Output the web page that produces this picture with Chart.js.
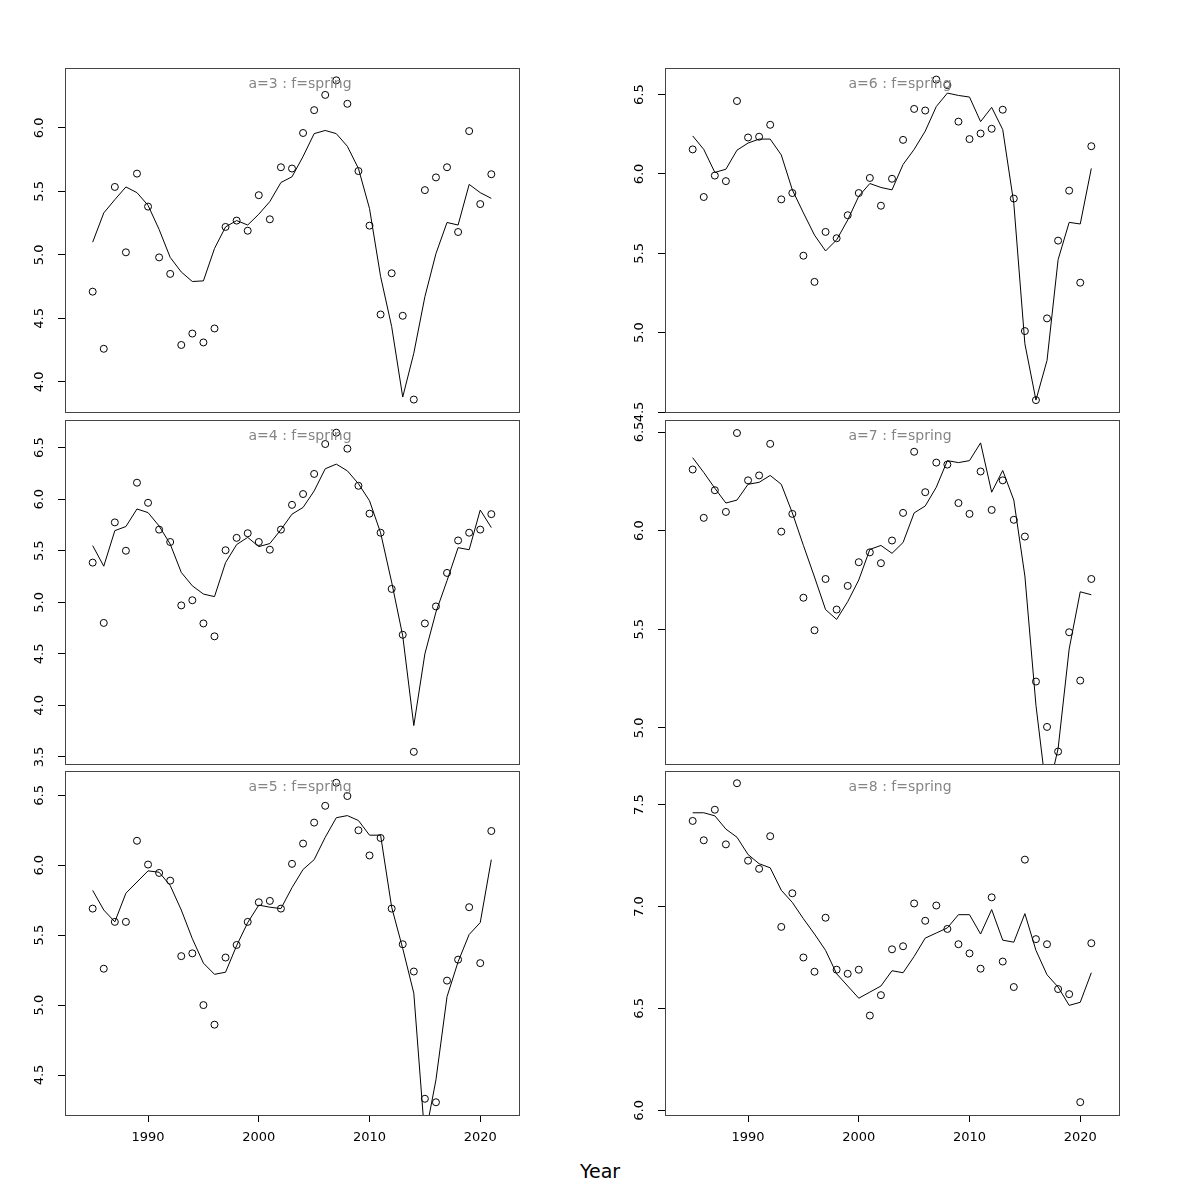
<!DOCTYPE html>
<html>
<head>
<meta charset="utf-8">
<script src="https://cdn.jsdelivr.net/npm/chart.js@4/dist/chart.umd.min.js"></script>
<style>
body { margin: 0; background: #fff; width: 1200px; height: 1200px; position: relative; overflow: hidden; font-family: "DejaVu Sans", sans-serif; }
canvas { position: absolute; }
#xlab { position: absolute; left: 0; width: 1200px; top: 1160px; text-align: center; font-size: 19px; color: #000; }
</style>
</head>
<body>
<div id="xlab">Year</div>
<script>
const years = [1985, 1986, 1987, 1988, 1989, 1990, 1991, 1992, 1993, 1994, 1995, 1996, 1997, 1998, 1999, 2000,
    2001, 2002, 2003, 2004, 2005, 2006, 2007, 2008, 2009, 2010, 2011, 2012, 2013, 2014, 2015, 2016, 2017, 2018,
    2019, 2020, 2021];
const xTicks = [1990, 2000, 2010, 2020];

// observed values (circles) and fitted line, one pair per age panel
const obs3 = [4.71, 4.26, 5.535, 5.02, 5.64, 5.38, 4.98, 4.85, 4.29, 4.38, 4.31, 4.42, 5.22, 5.27, 5.19, 5.47, 5.28, 5.69,
    5.68, 5.96, 6.14, 6.26, 6.375, 6.19, 5.66, 5.23, 4.53, 4.855, 4.52, 3.86, 5.51, 5.61, 5.69, 5.18, 5.975, 5.40, 5.635];
const fit3 = [5.10, 5.33, 5.435, 5.535, 5.49, 5.39, 5.20, 4.98, 4.865, 4.79, 4.795, 5.05, 5.22, 5.27, 5.235, 5.32, 5.42, 5.57,
    5.615, 5.775, 5.955, 5.98, 5.955, 5.855, 5.68, 5.365, 4.83, 4.435, 3.88, 4.225, 4.67, 5.01, 5.255, 5.235, 5.555, 5.49, 5.445];

const obs4 = [5.385, 4.80, 5.775, 5.50, 6.16, 5.965, 5.705, 5.585, 4.97, 5.02, 4.795, 4.67, 5.505, 5.625, 5.67, 5.585, 5.51, 5.705,
    5.945, 6.05, 6.245, 6.535, 6.645, 6.49, 6.13, 5.86, 5.675, 5.13, 4.685, 3.55, 4.795, 4.96, 5.285, 5.60, 5.675, 5.705, 5.855];
const fit4 = [5.55, 5.35, 5.695, 5.735, 5.905, 5.87, 5.74, 5.565, 5.29, 5.16, 5.08, 5.055, 5.385, 5.56, 5.63, 5.54, 5.57, 5.705,
    5.855, 5.92, 6.08, 6.295, 6.34, 6.275, 6.15, 5.985, 5.675, 5.195, 4.675, 3.805, 4.50, 4.905, 5.21, 5.53, 5.51, 5.895, 5.725];

const obs5 = [5.69, 5.26, 5.595, 5.595, 6.175, 6.005, 5.945, 5.89, 5.35, 5.37, 5.0, 4.86, 5.34, 5.43, 5.595, 5.735, 5.745, 5.69,
    6.01, 6.155, 6.305, 6.425, 6.59, 6.495, 6.25, 6.07, 6.195, 5.69, 5.435, 5.24, 4.33, 4.305, 5.175, 5.325, 5.70, 5.30, 6.245];
const fit5 = [5.82, 5.68, 5.595, 5.80, 5.88, 5.96, 5.95, 5.855, 5.68, 5.475, 5.30, 5.22, 5.235, 5.425, 5.59, 5.715, 5.70, 5.69,
    5.84, 5.97, 6.04, 6.20, 6.34, 6.355, 6.32, 6.215, 6.215, 5.70, 5.405, 5.085, 4.05, 4.465, 5.06, 5.31, 5.505, 5.59, 6.04];

const obs6 = [6.155, 5.855, 5.99, 5.955, 6.46, 6.23, 6.235, 6.31, 5.84, 5.88, 5.485, 5.32, 5.635, 5.595, 5.74, 5.88, 5.975, 5.80,
    5.97, 6.215, 6.41, 6.40, 6.595, 6.56, 6.33, 6.22, 6.255, 6.285, 6.405, 5.845, 5.01, 4.575, 5.09, 5.58, 5.895, 5.315, 6.175];
const fit6 = [6.24, 6.155, 6.01, 6.03, 6.15, 6.195, 6.22, 6.22, 6.12, 5.90, 5.755, 5.615, 5.515, 5.585, 5.71, 5.86, 5.94, 5.915,
    5.90, 6.06, 6.155, 6.27, 6.425, 6.51, 6.495, 6.485, 6.33, 6.42, 6.28, 5.815, 4.93, 4.575, 4.825, 5.46, 5.695, 5.685, 6.035];

const obs7 = [6.31, 6.065, 6.205, 6.095, 6.495, 6.255, 6.28, 6.44, 5.995, 6.085, 5.66, 5.495, 5.755, 5.60, 5.72, 5.84, 5.89, 5.835,
    5.95, 6.09, 6.40, 6.195, 6.345, 6.335, 6.14, 6.085, 6.30, 6.105, 6.255, 6.055, 5.97, 5.235, 5.005, 4.88, 5.485, 5.24, 5.755];
const fit7 = [6.37, 6.295, 6.215, 6.14, 6.155, 6.235, 6.245, 6.28, 6.235, 6.09, 5.925, 5.765, 5.60, 5.55, 5.64, 5.75, 5.905, 5.925,
    5.885, 5.94, 6.09, 6.125, 6.22, 6.355, 6.345, 6.355, 6.445, 6.195, 6.305, 6.155, 5.77, 5.115, 4.65, 4.895, 5.40, 5.69, 5.675];

const obs8 = [7.42, 7.325, 7.475, 7.305, 7.605, 7.225, 7.185, 7.345, 6.90, 7.065, 6.75, 6.68, 6.945, 6.69, 6.67, 6.69, 6.465, 6.565,
    6.79, 6.805, 7.015, 6.93, 7.005, 6.89, 6.815, 6.77, 6.695, 7.045, 6.73, 6.605, 7.23, 6.84, 6.815, 6.595, 6.57, 6.04, 6.82];
const fit8 = [7.46, 7.46, 7.445, 7.38, 7.34, 7.255, 7.21, 7.19, 7.08, 7.02, 6.94, 6.865, 6.785, 6.67, 6.61, 6.55, 6.58, 6.61,
    6.685, 6.675, 6.755, 6.845, 6.87, 6.895, 6.96, 6.96, 6.865, 6.985, 6.835, 6.825, 6.965, 6.785, 6.665, 6.605, 6.515, 6.53, 6.675];

const yTicks3 = [4.0, 4.5, 5.0, 5.5, 6.0];
const yTicks4 = [3.5, 4.0, 4.5, 5.0, 5.5, 6.0, 6.5];
const yTicks5 = [4.5, 5.0, 5.5, 6.0, 6.5];
const yTicks6 = [4.5, 5.0, 5.5, 6.0, 6.5];
const yTicks7 = [5.0, 5.5, 6.0, 6.5];
const yTicks8 = [6.0, 6.5, 7.0, 7.5];

const FONT = 'DejaVu Sans';
const colLeft = [65, 665];
const rowTop = [68, 419.5, 771];
const plotW = 454;
const plotH = 344;

function zeroPad(s) {
    s.paddingTop = 0; s.paddingBottom = 0; s.paddingLeft = 0; s.paddingRight = 0;
}

const panelTitle = {
    id: 'panelTitle',
    afterDraw(chart, args, opts) {
        const {ctx, chartArea} = chart;
        ctx.save();
        ctx.font = '14px "' + FONT + '"';
        ctx.fillStyle = '#858585';
        ctx.textAlign = 'center';
        ctx.textBaseline = 'middle';
        ctx.fillText(opts.text, chartArea.left + 235, chartArea.top + 16);
        ctx.restore();
    }
};

function makePanel(col, row, label, obs, fit, ticks, yMin, yMax) {
    const bottom = row === 2;
    const canvas = document.createElement('canvas');
    const w = 65 + plotW + 15;
    const h = 15 + plotH + (bottom ? 60 : 15);
    canvas.width = w;
    canvas.height = h;
    canvas.style.left = (colLeft[col] - 65) + 'px';
    canvas.style.top = (rowTop[row] - 15) + 'px';
    canvas.style.width = w + 'px';
    canvas.style.height = h + 'px';
    document.body.appendChild(canvas);

    new Chart(canvas, {
        type: 'scatter',
        data: {
            datasets: [{
                data: fit.map((v, i) => ({x: years[i], y: v})),
                showLine: true,
                borderColor: '#000',
                borderWidth: 1,
                pointRadius: 0,
                tension: 0
            }, {
                data: obs.map((v, i) => ({x: years[i], y: v})),
                showLine: false,
                pointStyle: 'circle',
                pointRadius: 3.5,
                pointBorderWidth: 1,
                pointBorderColor: '#000',
                pointBackgroundColor: 'rgba(0,0,0,0)'
            }]
        },
        options: {
            responsive: false,
            animation: false,
            devicePixelRatio: 1,
            layout: {padding: {top: 15, right: 15, left: 0, bottom: bottom ? 0 : 15}},
            plugins: {
                legend: {display: false},
                tooltip: {enabled: false},
                panelTitle: {text: label}
            },
            scales: {
                x: {
                    type: 'linear', position: 'bottom', min: 1982.5, max: 2023.5,
                    afterBuildTicks: s => { s.ticks = xTicks.map(v => ({value: v})); },
                    ticks: {
                        display: bottom, color: '#000', padding: 8, maxRotation: 0, minRotation: 0, autoSkip: false,
                        font: {family: FONT, size: 13},
                        callback: v => String(v)
                    },
                    grid: {drawOnChartArea: false, drawTicks: bottom, tickLength: 7, tickColor: '#000'},
                    border: {display: true, color: '#444', width: 1},
                    afterFit: s => { s.height = bottom ? 60 : 0; zeroPad(s); }
                },
                y: {
                    type: 'linear', position: 'left', min: yMin, max: yMax,
                    afterBuildTicks: s => { s.ticks = ticks.map(v => ({value: v})); },
                    ticks: {
                        color: '#000', padding: 8, minRotation: 90, maxRotation: 90, crossAlign: 'center', autoSkip: false,
                        font: {family: FONT, size: 13},
                        callback: v => v.toFixed(1)
                    },
                    grid: {drawOnChartArea: false, drawTicks: true, tickLength: 7, tickColor: '#000'},
                    border: {display: true, color: '#444', width: 1},
                    afterFit: s => { s.width = 65; zeroPad(s); }
                },
                xTop: {
                    type: 'linear', position: 'top',
                    ticks: {display: false},
                    grid: {drawOnChartArea: false, drawTicks: false},
                    border: {display: true, color: '#444', width: 1},
                    afterFit: s => { s.height = 0; zeroPad(s); }
                },
                yRight: {
                    type: 'linear', position: 'right',
                    ticks: {display: false},
                    grid: {drawOnChartArea: false, drawTicks: false},
                    border: {display: true, color: '#444', width: 1},
                    afterFit: s => { s.width = 0; zeroPad(s); }
                }
            }
        },
        plugins: [panelTitle]
    });
}

makePanel(0, 0, 'a=3 : f=spring', obs3, fit3, yTicks3, 3.762, 6.472);
makePanel(0, 1, 'a=4 : f=spring', obs4, fit4, yTicks4, 3.432, 6.768);
makePanel(0, 2, 'a=5 : f=spring', obs5, fit5, yTicks5, 4.214, 6.674);
makePanel(1, 0, 'a=6 : f=spring', obs6, fit6, yTicks6, 4.5, 6.668);
makePanel(1, 1, 'a=7 : f=spring', obs7, fit7, yTicks7, 4.817, 6.561);
makePanel(1, 2, 'a=8 : f=spring', obs8, fit8, yTicks8, 5.977, 7.665);
</script>
</body>
</html>
